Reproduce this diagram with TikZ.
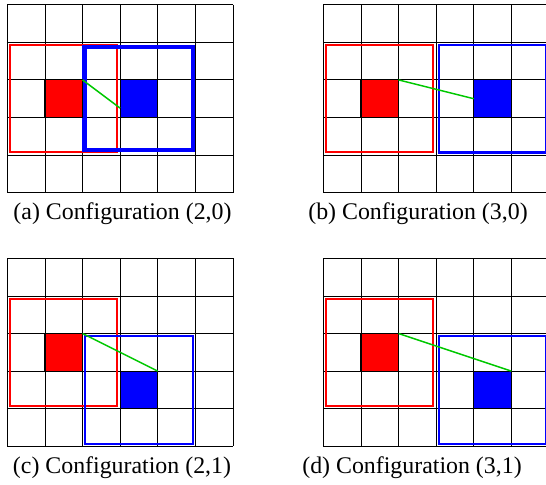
\documentclass[tikz,border=0pt]{standalone}
\usepackage{fontspec}
\setmainfont{Liberation Serif}
\definecolor{lgreen}{RGB}{0,200,0}
\tikzset{
  gridline/.style={black, line width=0.6pt},
  redcell/.style={draw=black, fill=red, line width=0.9pt, minimum size=28.2pt, inner sep=0pt, outer sep=0pt},
  bluecell/.style={draw=black, fill=blue, line width=0.9pt, minimum size=28.2pt, inner sep=0pt, outer sep=0pt},
  redframe/.style={draw=red, line width=1.6pt},
  blueframe/.style={draw=blue, line width=1.6pt},
  thickblue/.style={draw=blue, line width=3.4pt},
  link/.style={draw=lgreen, line width=1.1pt},
  captext/.style={anchor=base, font=\rmfamily\fontsize{17.9}{22}\selectfont, inner sep=0pt}
}
\newcommand{\cellgrid}{%
  \foreach \i in {0,...,6} {\draw[gridline] (\i,0) -- (\i,5);}
  \foreach \j in {0,...,5} {\draw[gridline] (0,\j) -- (6,\j);}
}
\begin{document}
\begin{tikzpicture}[x=0.75pt, y=-0.75pt]
\useasboundingbox (0,0) rectangle (546,485);
\clip (0,0) rectangle (546,485);
% ---------- (a)
\begin{scope}[shift={(7.3,4.7)}, x=28.2pt, y=-28.2pt]
  \cellgrid
  \draw[redframe] (0.08,1.08) rectangle (2.92,3.92);
  \draw[thickblue] (2.06,1.12) rectangle (4.94,3.87);
  \node[redcell] (ra) at (1.5,2.5) {};
  \node[bluecell] (ba) at (3.5,2.5) {};
  \coordinate (ea) at (3,2.75);
  \draw[link] (ra.north east) -- (ea);
\end{scope}
% ---------- (b)
\begin{scope}[shift={(323.3,4.7)}, x=28.2pt, y=-28.2pt]
  \cellgrid
  \draw[redframe] (0.08,1.08) rectangle (2.92,3.92);
  \draw[blueframe] (3.07,1.07) rectangle (5.93,3.93);
  \node[redcell] (rb) at (1.5,2.5) {};
  \node[bluecell] (bb) at (4.5,2.5) {};
  \draw[link] (rb.north east) -- (bb.west);
\end{scope}
% ---------- (c)
\begin{scope}[shift={(7.3,258.3)}, x=28.2pt, y=-28.2pt]
  \cellgrid
  \draw[redframe] (0.08,1.08) rectangle (2.92,3.92);
  \draw[blueframe] (2.07,2.07) rectangle (4.93,4.93);
  \node[redcell] (rc) at (1.5,2.5) {};
  \node[bluecell] (bc) at (3.5,3.5) {};
  \draw[link] (rc.north east) -- (bc.north east);
\end{scope}
% ---------- (d)
\begin{scope}[shift={(323.3,258.3)}, x=28.2pt, y=-28.2pt]
  \cellgrid
  \draw[redframe] (0.08,1.08) rectangle (2.92,3.92);
  \draw[blueframe] (3.07,2.07) rectangle (5.93,4.93);
  \node[redcell] (rd) at (1.5,2.5) {};
  \node[bluecell] (bd) at (4.5,3.5) {};
  \draw[link] (rd.north east) -- (bd.north east);
\end{scope}
% ---------- captions
\node[captext] (capa) at (122.5,219.5) {(a) Configuration (2,0)};
\node[captext] (capb) at (418,219.5) {(b) Configuration (3,0)};
\node[captext] (capc) at (122,473.5) {(c) Configuration (2,1)};
\node[captext] (capd) at (412,473.5) {(d) Configuration (3,1)};
\end{tikzpicture}
\end{document}
